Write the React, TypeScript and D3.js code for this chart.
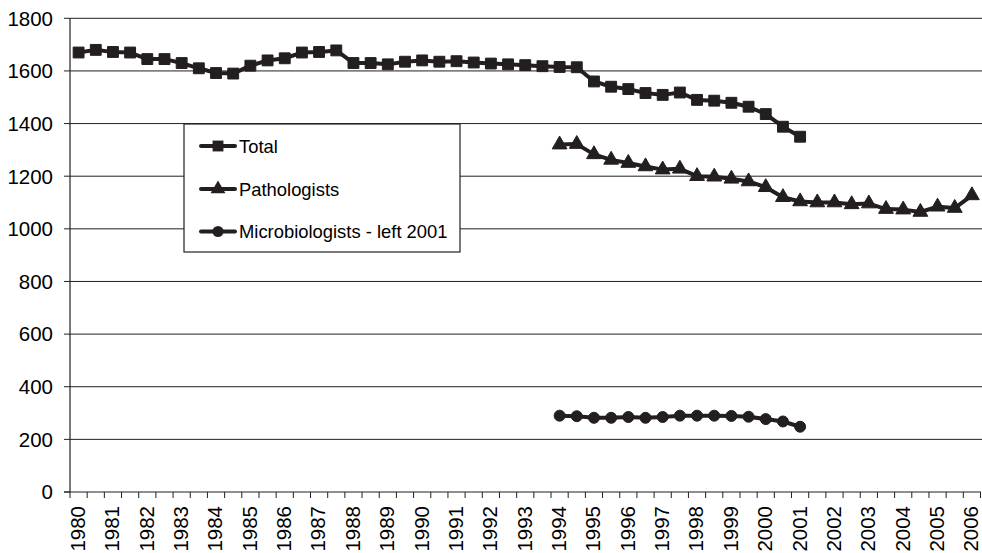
import React from 'react';
import * as d3 from 'd3';

// tick labels along the bottom, one per year
const years = [
  1980, 1981, 1982, 1983, 1984, 1985, 1986, 1987, 1988, 1989, 1990, 1991, 1992, 1993,
  1994, 1995, 1996, 1997, 1998, 1999, 2000, 2001, 2002, 2003, 2004, 2005, 2006,
];

// two readings per year (the last year has one)
const periods = years.flatMap((y, i) => (i < years.length - 1 ? [`${y}a`, `${y}b`] : [`${y}a`]));

const totalStart = '1980a';
const totalValues = [
  1670, 1680, 1672, 1670, 1645, 1645, 1630, 1610, 1592, 1590, 1620, 1640, 1648, 1670,
  1672, 1678, 1630, 1630, 1625, 1635, 1640, 1635, 1637, 1632, 1628, 1625, 1622, 1618,
  1615, 1614, 1560, 1540, 1531, 1516, 1509, 1518, 1490, 1487, 1479, 1464, 1436, 1388, 1350,
];

const pathStart = '1994a';
const pathValues = [
  1320, 1322, 1283, 1262, 1250, 1237, 1225, 1228, 1200, 1198, 1190, 1180, 1158, 1120,
  1104, 1100, 1100, 1093, 1096, 1075, 1073, 1064, 1084, 1079, 1127,
];

const microStart = '1994a';
const microValues = [
  290, 288, 282, 282, 285, 282, 285, 290, 290, 290, 289, 286, 277, 268, 248,
];

const yTicks = [0, 200, 400, 600, 800, 1000, 1200, 1400, 1600, 1800];

const seriesNames = ['Total', 'Pathologists', 'Microbiologists - left 2001'];

const W = 982;
const H = 553;
const ink = '#231f20';
const font = '"Liberation Sans", Arial, sans-serif';

const App = () => {
  const x = d3.scaleBand<string>().domain(periods).range([70, 980.5]).paddingInner(0).paddingOuter(0);
  const y = d3.scaleLinear().domain([0, 1800]).range([492, 18.3]);
  const cx = (p: string) => (x(p) as number) + x.bandwidth() / 2;

  const series = [
    { name: seriesNames[0], start: totalStart, values: totalValues, symbol: d3.symbolSquare, size: 118 },
    { name: seriesNames[1], start: pathStart, values: pathValues, symbol: d3.symbolTriangle, size: 95 },
    { name: seriesNames[2], start: microStart, values: microValues, symbol: d3.symbolCircle, size: 95 },
  ].map((s) => {
    const i0 = periods.indexOf(s.start);
    return { ...s, pts: s.values.map((v, i) => ({ p: periods[i0 + i], v })) };
  });

  const line = d3
    .line<{ p: string; v: number }>()
    .x((d) => cx(d.p))
    .y((d) => y(d.v));

  const boundaries = d3.range(periods.length + 1).map((k) => 70 + k * x.bandwidth());

  // legend box
  const lg = { x: 184, y: 124, w: 276, h: 128 };
  const legendRows = [146, 189, 231.5];

  return (
    <svg
      width={W}
      height={H}
      style={{ position: 'absolute', left: 0, top: 0, background: '#fff' }}
      fontFamily={font}
    >
      <rect width={W} height={H} fill="#fff" />
      {/* grid lines and y axis */}
      {yTicks.map((t) => (
        <g key={t}>
          {t > 0 && <line x1={70} x2={982} y1={y(t)} y2={y(t)} stroke={ink} strokeWidth={1} />}
          <line x1={64} x2={70} y1={y(t)} y2={y(t)} stroke={ink} strokeWidth={1} />
          <text x={53} y={y(t)} dy="0.36em" textAnchor="end" fontSize={20.5} fill="#000">
            {t}
          </text>
        </g>
      ))}
      <line x1={70} x2={70} y1={y(1800)} y2={y(0)} stroke={ink} strokeWidth={1.2} />
      <line x1={64} x2={981} y1={y(0)} y2={y(0)} stroke={ink} strokeWidth={1.2} />
      {boundaries.map((bx, k) => (
        <line key={k} x1={bx} x2={bx} y1={y(0)} y2={y(0) + 6} stroke={ink} strokeWidth={1} />
      ))}
      {years.map((yr) => {
        const px = cx(`${yr}a`);
        return (
          <text
            key={yr}
            transform={`translate(${px - 1},${506}) rotate(-90)`}
            textAnchor="end"
            dy="0.36em"
            fontSize={20.5}
            fill="#000"
          >
            {yr}
          </text>
        );
      })}

      {/* series */}
      {series.map((s) => {
        const sym = d3.symbol().type(s.symbol).size(s.size);
        return (
          <g key={s.name}>
            <path d={line(s.pts) || ''} fill="none" stroke={ink} strokeWidth={4} strokeLinejoin="round" />
            {s.pts.map((d) => (
              <path
                key={d.p}
                d={sym() || ''}
                transform={`translate(${cx(d.p)},${y(d.v)})`}
                fill={ink}
                stroke={ink}
                strokeWidth={1}
              />
            ))}
          </g>
        );
      })}

      {/* legend */}
      <rect x={lg.x} y={lg.y} width={lg.w} height={lg.h} fill="#fff" stroke={ink} strokeWidth={1.2} />
      {series.map((s, i) => {
        const ly = legendRows[i];
        const sym = d3.symbol().type(s.symbol).size(s.size);
        return (
          <g key={s.name}>
            <line x1={201} x2={235} y1={ly} y2={ly} stroke={ink} strokeWidth={4} strokeLinecap="round" />
            <path d={sym() || ''} transform={`translate(218,${ly})`} fill={ink} />
            <text x={239} y={ly} dy="0.36em" fontSize={18.4} fill="#000">
              {s.name}
            </text>
          </g>
        );
      })}
    </svg>
  );
};

export default App;
